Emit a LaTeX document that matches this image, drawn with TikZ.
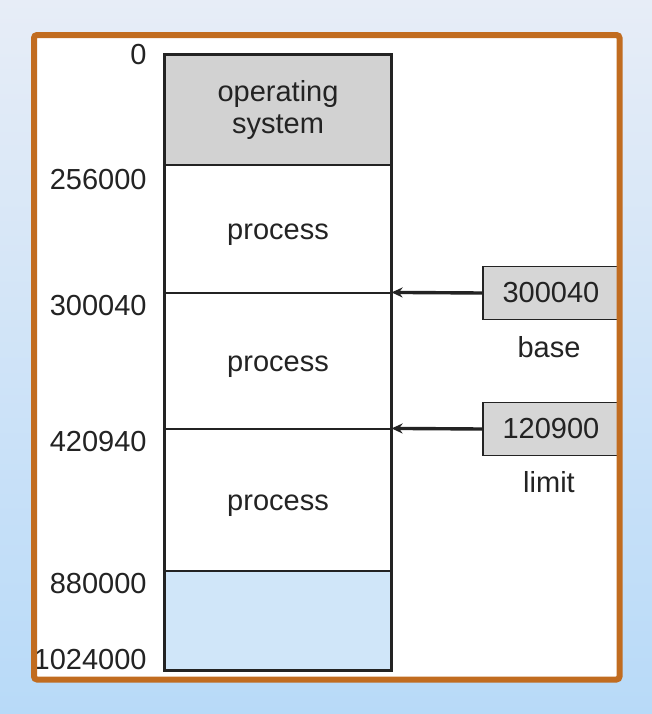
\documentclass[tikz,border=0pt]{standalone}
\usepackage{fontspec}
\setmainfont{Liberation Sans}
\usetikzlibrary{arrows.meta, positioning, backgrounds}
\definecolor{bgtop}{RGB}{231,237,247}
\definecolor{bgbot}{RGB}{184,218,248}
\definecolor{framecolor}{RGB}{193,108,32}
\definecolor{oscolor}{RGB}{210,210,210}
\definecolor{regcolor}{RGB}{214,214,214}
\definecolor{freecolor}{RGB}{208,230,249}
\definecolor{inkcolor}{RGB}{35,35,35}
\tikzset{
  seg/.style     = {draw=inkcolor, line width=0.6pt, minimum width=113pt,
                    align=center, inner sep=0pt, text=inkcolor},
  proc/.style    = {seg, fill=white, text height=10pt, text depth=0pt},
  memline/.style = {draw=inkcolor, line width=1pt},
  addr/.style    = {anchor=east, inner sep=0pt, text=inkcolor},
  reg/.style     = {draw=inkcolor, line width=0.9pt, fill=regcolor, minimum width=68pt,
                    minimum height=26.5pt, inner sep=0pt, text=inkcolor},
  reglabel/.style= {inner sep=0pt, text=inkcolor},
  ptr/.style     = {draw=inkcolor, line width=1.7pt, -{Stealth[length=5.5pt, width=5pt]}},
  frame/.style   = {draw=framecolor, line width=3pt, rounded corners=1.5pt},
}

\begin{document}
\begin{tikzpicture}[x=0.5pt, y=-0.5pt, font=\fontsize{14.5}{17}\selectfont]
  % background and frame
  \shade[top color=bgtop, bottom color=bgbot] (0,0) rectangle (652,714);
  \useasboundingbox (0,0) rectangle (652,714);
  \fill[white] (34,35) rectangle (619.5,679.5);
  % memory column
  \node[seg, fill=oscolor, minimum height=55pt] (os) at (278,110) {operating\\[-1pt]system};
  \node[proc, minimum height=64pt] (proc1) at (278,229) {process};
  \node[proc, minimum height=68pt] (proc2) at (278,361) {process};
  \node[proc, minimum height=71pt] (proc3) at (278,500) {process};
  \node[seg, fill=freecolor, minimum height=49.5pt] (free) at (278,620.5) {};
  \draw[memline] (os.north west) rectangle (free.south east);
  % addresses
  \node[addr] (a0) at (147,55) {0};
  \node[addr] (a1) at (147,180) {256000};
  \node[addr] (a2) at (147,306) {300040};
  \node[addr] (a3) at (147,442) {420940};
  \node[addr] (a4) at (147,584) {880000};
  \node[addr] (a5) at (147,660) {1024000};
  % base and limit registers
  \node[reg] (base) at (551,293) {300040};
  \node[reglabel] (baselbl) at (549,347) {base};
  \node[reg] (limit) at (551,429) {120900};
  \node[reglabel] (limitlbl) at (549,482) {limit};
  \draw[ptr] (base.west) -- (proc2.north east);
  \draw[ptr] (limit.west) -- (proc3.north east);
  \draw[frame] (34,35) rectangle (619.5,679.5);
\end{tikzpicture}
\end{document}
